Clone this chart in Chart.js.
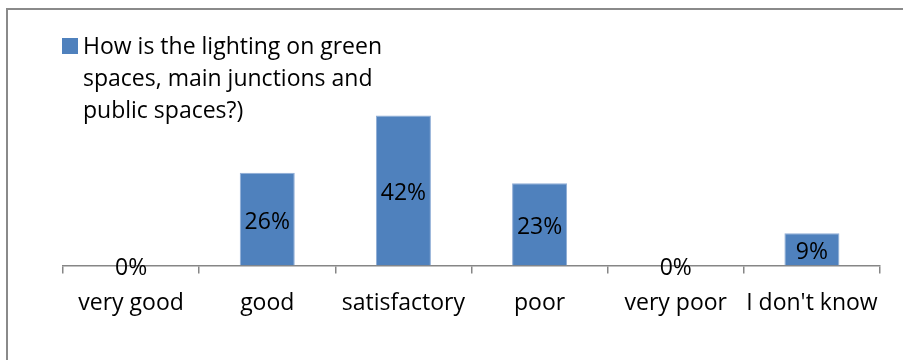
<!DOCTYPE html>
<html>
<head>
<meta charset="utf-8">
<script src="https://cdn.jsdelivr.net/npm/chart.js@4"></script>
<style>
  html, body { margin: 0; padding: 0; background: #fff; }
  #wrap { width: 903px; height: 360px; position: relative; }
</style>
</head>
<body>
<div id="wrap"><canvas id="chart"></canvas></div>
<script>
// ---------------- DATA ----------------
const categories = ["very good", "good", "satisfactory", "poor", "very poor", "I don't know"];
const shares = [0, 0.26, 0.42, 0.23, 0, 0.09];
const seriesLines = ["How is the lighting on green", "spaces, main junctions and", "public spaces?)"];

const FONT = "'Open Sans', sans-serif";
const FONT_SIZE = 23;
const BAR_BLUE = "#4F81BD";
const AXIS_GREY = "#868686";

// ---------------- FRAME + LEGEND ----------------
const framePlugin = {
  id: "frame",
  beforeDraw(chart) {
    const ctx = chart.ctx;
    ctx.save();
    ctx.fillStyle = "#fff";
    ctx.fillRect(0, 0, chart.width, chart.height);
    ctx.strokeStyle = "#8a8a8a";
    ctx.lineWidth = 2;
    ctx.beginPath();
    ctx.moveTo(7, chart.height + 2);
    ctx.lineTo(7, 9);
    ctx.lineTo(chart.width + 2, 9);
    ctx.stroke();
    ctx.restore();
  },
  afterDraw(chart) {
    const ctx = chart.ctx;
    ctx.save();
    ctx.fillStyle = BAR_BLUE;
    ctx.fillRect(62, 38, 16, 16);
    ctx.fillStyle = "#000";
    ctx.font = FONT_SIZE + "px " + FONT;
    ctx.textBaseline = "middle";
    ctx.textAlign = "left";
    seriesLines.forEach((line, i) => ctx.fillText(line, 83, 47 + i * 32));
    ctx.restore();
  }
};

// ---------------- VALUE LABELS ----------------
const valueLabels = {
  id: "valueLabels",
  afterDatasetsDraw(chart) {
    const ctx = chart.ctx;
    const meta = chart.getDatasetMeta(0);
    ctx.save();
    ctx.fillStyle = "#000";
    ctx.font = FONT_SIZE + "px " + FONT;
    ctx.textAlign = "center";
    ctx.textBaseline = "middle";
    meta.data.forEach((bar, i) => {
      const y = (bar.y + bar.base) / 2 + 3;
      ctx.fillText(Math.round(shares[i] * 100) + "%", bar.x, y);
    });
    ctx.restore();
  }
};

new Chart(document.getElementById("chart"), {
  type: "bar",
  data: {
    labels: categories,
    datasets: [{
      label: seriesLines.join(" "),
      data: shares,
      backgroundColor: BAR_BLUE,
      borderColor: "#8FADD6",
      borderWidth: 1,
      categoryPercentage: 1,
      barPercentage: 0.404
    }]
  },
  options: {
    responsive: true,
    maintainAspectRatio: false,
    animation: false,
    layout: { padding: { left: 63, right: 23, top: 87, bottom: 27 } },
    plugins: {
      legend: { display: false },
      tooltip: { enabled: false }
    },
    scales: {
      x: {
        grid: {
          display: true,
          drawOnChartArea: false,
          drawTicks: true,
          tickLength: 8,
          color: AXIS_GREY,
          lineWidth: 1.5,
          offset: true
        },
        border: { color: AXIS_GREY, width: 1.5 },
        ticks: {
          color: "#000",
          font: { family: FONT, size: FONT_SIZE },
          padding: 16,
          maxRotation: 0,
          autoSkip: false
        }
      },
      y: { display: false, min: 0, max: 0.5 }
    }
  },
  plugins: [framePlugin, valueLabels]
});
</script>
</body>
</html>
